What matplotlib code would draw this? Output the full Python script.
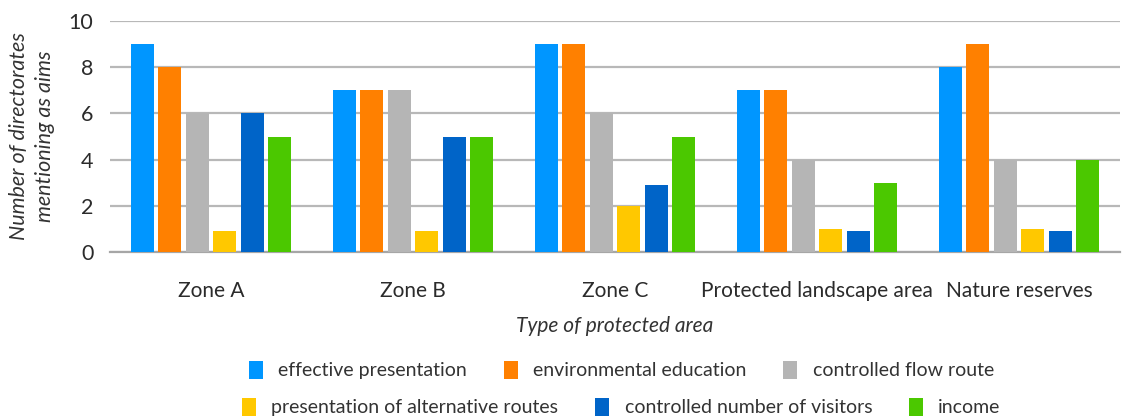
import numpy as np
import matplotlib
matplotlib.use("Agg")
import matplotlib.pyplot as plt
from matplotlib.patches import Patch

plt.rcParams.update({
    "font.family": ["Lato", "DejaVu Sans"],
    "text.color": "#333333", "axes.labelcolor": "#333333",
    "xtick.color": "#2b2b2b", "ytick.color": "#2b2b2b",
})

AREAS = ["Zone A", "Zone B", "Zone C", "Protected landscape area",
         "Nature reserves"]
SERIES = ["effective presentation", "environmental education",
          "controlled flow route", "presentation of alternative routes",
          "controlled number of visitors", "income"]
effective_presentation = [9, 7, 9, 7, 8]
environmental_education = [8, 7, 9, 7, 9]
controlled_flow_route = [6, 7, 6, 4, 4]
alternative_routes = [0.9, 0.9, 2, 1, 1]
controlled_visitors = [6, 5, 2.9, 0.9, 0.9]
income = [5, 5, 5, 3, 4]
COLORS = ["#0096ff", "#ff8000", "#b5b5b5", "#ffc800", "#0064c8", "#4bc800"]

values = [effective_presentation, environmental_education,
          controlled_flow_route, alternative_routes, controlled_visitors,
          income]

fig = plt.figure(figsize=(11.34, 4.17), dpi=100)
ax = fig.add_axes([110 / 1134, 1 - 252 / 417, 1010 / 1134, 231 / 417])

x = np.arange(len(AREAS))
w, pitch = 0.114, 0.136
for i, (vals, c) in enumerate(zip(values, COLORS)):
    ax.bar(x + (i - 2.5) * pitch, vals, width=w, color=c, zorder=3)

ax.set_xlim(-0.5, len(AREAS) - 0.5)
ax.set_ylim(0, 10)
ax.set_yticks(range(0, 11, 2))
ax.yaxis.grid(True, color="#b8b8b8", lw=1.6, zorder=0)
ax.set_axisbelow(True)
for s in ("left", "right", "top"):
    ax.spines[s].set_visible(False)
ax.spines["bottom"].set_color("#a6a6a6")
ax.spines["bottom"].set_linewidth(1.6)
ax.tick_params(axis="both", length=0)
ax.tick_params(axis="y", labelsize=15.5, pad=12)
ax.set_xticks(x)
ax.set_xticklabels(AREAS, fontsize=15)
ax.tick_params(axis="x", pad=21)
ax.set_xlabel("Type of protected area", fontsize=15, style="italic",
              labelpad=11)
ax.set_ylabel("Number of directorates\nmentioning as aims", fontsize=15.5,
              style="italic", labelpad=10, linespacing=1.35)

handles = [Patch(fc=c, label=s) for c, s in zip(COLORS, SERIES)]
kw = dict(ncol=3, frameon=False, fontsize=14, handlelength=0.7,
          handleheight=1.1, handletextpad=0.8, columnspacing=1.9)
fig.legend(handles=handles[:3], loc="center",
           bbox_to_anchor=(0.548, 1 - 370 / 417), **kw)
fig.legend(handles=handles[3:], loc="center",
           bbox_to_anchor=(0.548, 1 - 407 / 417), **kw)

fig.savefig("out.png", dpi=100)
